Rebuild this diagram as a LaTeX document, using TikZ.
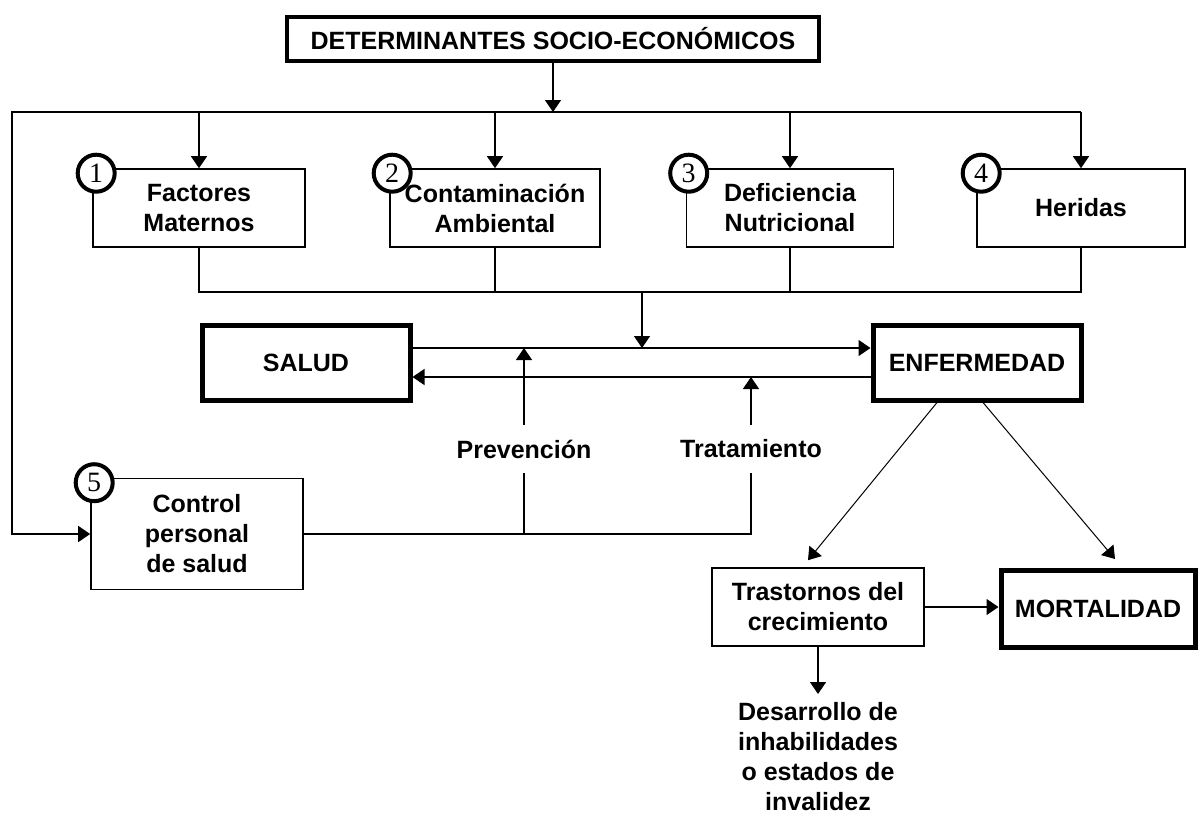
\documentclass[tikz,border=0pt]{standalone}
\usepackage{fontspec}
\setmainfont{Liberation Sans}
\newfontfamily\numfont{Liberation Serif}
\usetikzlibrary{arrows.meta,calc}

\begin{document}
\begin{tikzpicture}
      [ x=0.5pt, y=-0.5pt
      , >={Triangle[width=8pt,length=6pt]}
      , line width=0.7pt
      , box/.style={draw, line width=0.8pt, align=center, inner sep=1pt,
          font=\fontsize{12.5}{15}\selectfont\bfseries}
      , factor/.style={box, minimum width=105pt, minimum height=39pt}
      , heavy/.style={box, line width=2.5pt}
      , num/.style={draw, circle, fill=white, line width=2pt, minimum size=18.5pt,
          inner sep=0pt, font=\fontsize{14}{14}\numfont}
      , lbl/.style={align=center, inner xsep=2pt, inner ysep=7pt,
          font=\fontsize{12.5}{15}\selectfont\bfseries}
      , diag/.style={line width=0.5pt}
      ]
    \useasboundingbox (0,0) rectangle (1198,815);

    \node[heavy, line width=2.2pt, minimum width=266pt, minimum height=22pt] (DS) at (553,39)
      {DETERMINANTES SOCIO-ECONÓMICOS};
    \node[factor, minimum width=106pt] (FM) at (199,208) {Factores\\Maternos};
    \node[factor] (CA) at (495,208) {Contaminación\\Ambiental};
    \node[factor, minimum width=103.5pt] (DN) at (790,208) {Deficiencia\\Nutricional};
    \node[factor, minimum width=104pt] (H) at (1081,208) {Heridas};

    \node[heavy, minimum width=104pt, minimum height=37.5pt] (S) at (306,362.5) {SALUD};
    \node[heavy, minimum width=104pt, minimum height=37.5pt] (E) at (977,362.5) {ENFERMEDAD};

    \node[factor, minimum width=106pt, minimum height=55.5pt] (CP) at (197,534)
      {Control\\personal\\de salud};
    \node[lbl] (P) at (524,449) {Prevención};
    \node[lbl] (T) at (751,449) {Tratamiento};

    \node[factor, minimum width=106pt] (TC) at (818,607) {Trastornos del\\crecimiento};
    \node[heavy, minimum width=97pt, minimum height=38.5pt] (M) at (1098,609) {MORTALIDAD};
    \node[lbl, anchor=north, inner ysep=4pt] (DI) at (818,694)
      {Desarrollo de\\inhabilidades\\o estados de\\invalidez};

    \node[num] (N1) at ($(FM.north west)+(4,5)$) {1};
    \node[num] (N2) at ($(CA.north west)+(3,5)$) {2};
    \node[num] (N3) at ($(DN.north west)+(3,5)$) {3};
    \node[num] (N4) at ($(H.north west)+(5,5)$) {4};

    \coordinate (J) at (553,112);
    \coordinate (L) at (12,112);
    \coordinate (B) at (642,292);
    \coordinate (U) at (642,348);
    \coordinate (W) at (751,377);

    \draw[->] (DS) -- (J);
    \draw[->] (H.north |- J) -- (L) |- (CP);
    \draw
    (FM.north |- J) edge[->] (FM)
    (CA.north |- J) edge[->] (CA)
    (DN.north |- J) edge[->] (DN)
    (H.north |- J) edge[->] (H);

    \draw (FM) |- (H.south |- B) -- (H);
    \draw (CA) -- (CA |- B) (DN) -- (DN |- B);
    \draw[->] (B) -- (U);

    \draw[->] (S.east |- U) -- (E.west |- U);
    \draw[->] (E.west |- W) -- (S.east |- W);

    \draw (CP) -- (CP -| T) -- (T);
    \draw (P) -- (P |- CP);
    \draw[->] (P) -- (P |- U);
    \draw[->] (T) -- (T |- W);

    \draw[->, diag] ($(E.south)+(-40,0)$) -- ($(TC.north)+(-10,-7)$);
    \draw[->, diag] ($(E.south)+(6,0)$) -- ($(M.north)+(17,-9)$);

    \draw[->] (TC) -- (TC -| M.west);
    \draw[->] (TC) -- (DI);

    \node[num] (N5) at ($(CP.north west)+(4,5)$) {5};
    \end{tikzpicture}
\end{document}
